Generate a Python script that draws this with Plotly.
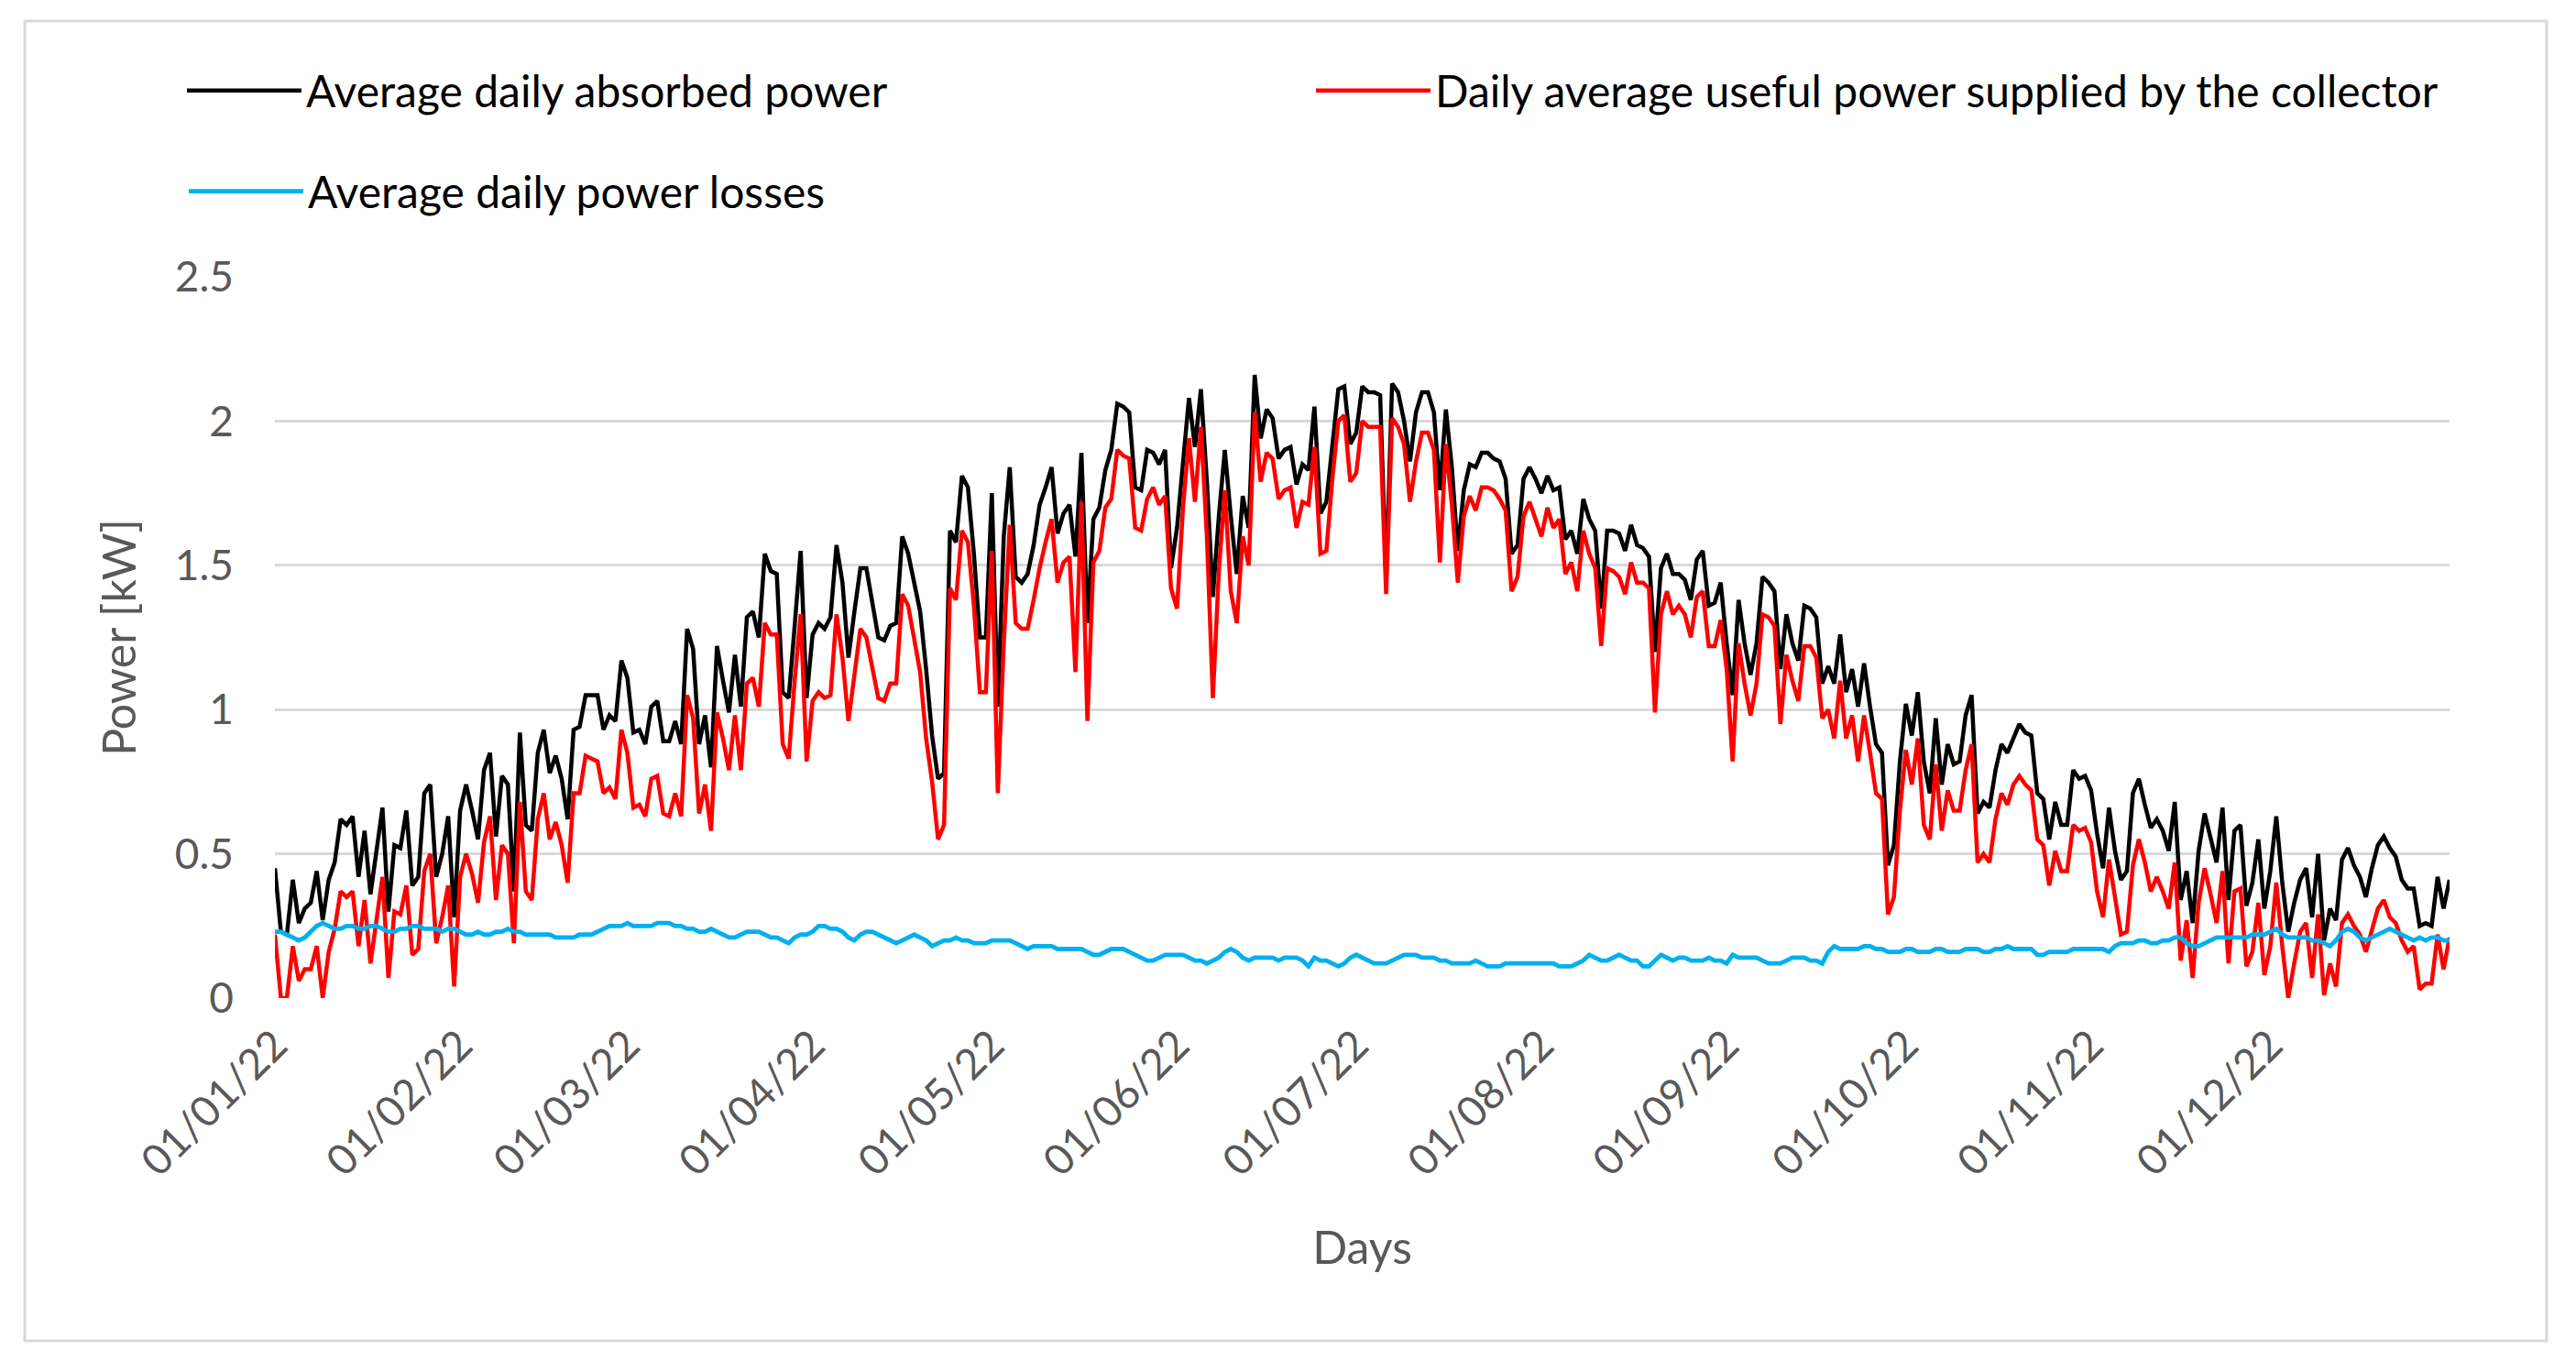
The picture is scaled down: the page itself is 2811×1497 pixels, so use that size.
import pandas as pd
import plotly.graph_objects as go

# ---------------- data ----------------
days = pd.date_range("2022-01-01", periods=365, freq="D")

absorbed = [
    0.45, 0.23, 0.22, 0.41, 0.26, 0.31, 0.33, 0.44, 0.27, 0.41,
    0.47, 0.62, 0.60, 0.63, 0.42, 0.58, 0.36, 0.50, 0.66, 0.30,
    0.53, 0.52, 0.65, 0.39, 0.42, 0.71, 0.74, 0.42, 0.50, 0.63,
    0.28, 0.65, 0.74, 0.65, 0.55, 0.79, 0.85, 0.56, 0.77, 0.74,
    0.37, 0.92, 0.60, 0.58, 0.85, 0.93, 0.78, 0.84, 0.76, 0.62,
    0.93, 0.94, 1.05, 1.05, 1.05, 0.93, 0.98, 0.96, 1.17, 1.11,
    0.92, 0.93, 0.88, 1.01, 1.03, 0.89, 0.89, 0.96, 0.88, 1.28,
    1.21, 0.88, 0.98, 0.80, 1.22, 1.10, 0.99, 1.19, 1.01, 1.32,
    1.34, 1.25, 1.54, 1.48, 1.47, 1.06, 1.04, 1.29, 1.55, 1.04,
    1.26, 1.30, 1.28, 1.32, 1.57, 1.44, 1.18, 1.34, 1.49, 1.49,
    1.36, 1.25, 1.24, 1.29, 1.30, 1.60, 1.54, 1.44, 1.34, 1.14,
    0.91, 0.76, 0.78, 1.62, 1.58, 1.81, 1.77, 1.54, 1.25, 1.25,
    1.75, 1.01, 1.60, 1.84, 1.46, 1.44, 1.47, 1.57, 1.71, 1.77,
    1.84, 1.61, 1.68, 1.71, 1.53, 1.89, 1.30, 1.66, 1.70, 1.83,
    1.90, 2.06, 2.05, 2.03, 1.77, 1.76, 1.90, 1.89, 1.85, 1.90,
    1.49, 1.63, 1.86, 2.08, 1.91, 2.11, 1.79, 1.39, 1.67, 1.90,
    1.67, 1.47, 1.74, 1.63, 2.16, 1.94, 2.04, 2.01, 1.87, 1.90,
    1.91, 1.78, 1.85, 1.83, 2.05, 1.68, 1.72, 1.92, 2.11, 2.12,
    1.92, 1.96, 2.12, 2.10, 2.10, 2.09, 1.45, 2.13, 2.10, 2.00,
    1.86, 2.03, 2.10, 2.10, 2.03, 1.76, 2.04, 1.84, 1.55, 1.76,
    1.85, 1.84, 1.89, 1.89, 1.87, 1.86, 1.80, 1.54, 1.57, 1.80,
    1.84, 1.80, 1.75, 1.81, 1.76, 1.77, 1.59, 1.62, 1.54, 1.73,
    1.66, 1.62, 1.35, 1.62, 1.62, 1.61, 1.55, 1.64, 1.57, 1.56,
    1.53, 1.20, 1.49, 1.54, 1.47, 1.47, 1.45, 1.38, 1.52, 1.55,
    1.36, 1.37, 1.44, 1.23, 1.05, 1.38, 1.23, 1.12, 1.23, 1.46,
    1.44, 1.41, 1.14, 1.33, 1.23, 1.17, 1.36, 1.35, 1.32, 1.09,
    1.15, 1.09, 1.26, 1.06, 1.14, 1.01, 1.16, 1.01, 0.88, 0.85,
    0.46, 0.53, 0.82, 1.02, 0.91, 1.06, 0.82, 0.71, 0.97, 0.74,
    0.88, 0.81, 0.82, 0.98, 1.05, 0.64, 0.68, 0.66, 0.79, 0.88,
    0.85, 0.90, 0.95, 0.92, 0.91, 0.71, 0.69, 0.55, 0.68, 0.60,
    0.60, 0.79, 0.76, 0.77, 0.72, 0.57, 0.45, 0.66, 0.51, 0.41,
    0.44, 0.71, 0.76, 0.67, 0.59, 0.62, 0.58, 0.51, 0.68, 0.34,
    0.44, 0.26, 0.51, 0.64, 0.55, 0.47, 0.66, 0.34, 0.58, 0.60,
    0.32, 0.40, 0.55, 0.31, 0.44, 0.63, 0.40, 0.23, 0.33, 0.41,
    0.45, 0.28, 0.50, 0.20, 0.31, 0.27, 0.48, 0.52, 0.46, 0.42,
    0.35, 0.45, 0.53, 0.56, 0.52, 0.49, 0.41, 0.38, 0.38, 0.25,
    0.26, 0.25, 0.42, 0.31, 0.41,
]

useful = [
    0.22, 0.00, 0.00, 0.18, 0.06, 0.10, 0.10, 0.18, 0.00, 0.16,
    0.24, 0.37, 0.35, 0.37, 0.18, 0.34, 0.12, 0.27, 0.42, 0.07,
    0.30, 0.29, 0.39, 0.15, 0.17, 0.44, 0.50, 0.19, 0.28, 0.39,
    0.04, 0.42, 0.50, 0.43, 0.33, 0.54, 0.63, 0.34, 0.53, 0.50,
    0.19, 0.68, 0.37, 0.34, 0.62, 0.71, 0.55, 0.61, 0.53, 0.40,
    0.71, 0.71, 0.84, 0.83, 0.82, 0.71, 0.73, 0.69, 0.93, 0.85,
    0.66, 0.67, 0.63, 0.76, 0.77, 0.64, 0.63, 0.71, 0.63, 1.05,
    0.97, 0.64, 0.74, 0.58, 0.99, 0.90, 0.79, 0.98, 0.79, 1.09,
    1.11, 1.01, 1.30, 1.26, 1.26, 0.88, 0.83, 1.10, 1.33, 0.82,
    1.03, 1.06, 1.04, 1.05, 1.33, 1.18, 0.96, 1.12, 1.28, 1.25,
    1.14, 1.04, 1.03, 1.09, 1.09, 1.40, 1.36, 1.25, 1.13, 0.90,
    0.75, 0.55, 0.60, 1.42, 1.38, 1.62, 1.58, 1.36, 1.06, 1.06,
    1.55, 0.71, 1.23, 1.64, 1.30, 1.28, 1.28, 1.38, 1.49, 1.58,
    1.66, 1.44, 1.51, 1.53, 1.13, 1.72, 0.96, 1.51, 1.55, 1.70,
    1.73, 1.90, 1.88, 1.87, 1.63, 1.62, 1.73, 1.77, 1.71, 1.74,
    1.42, 1.35, 1.70, 1.94, 1.72, 1.98, 1.60, 1.04, 1.48, 1.76,
    1.41, 1.30, 1.60, 1.50, 2.03, 1.79, 1.89, 1.87, 1.73, 1.76,
    1.77, 1.63, 1.72, 1.71, 1.91, 1.54, 1.55, 1.80, 2.00, 2.02,
    1.79, 1.82, 2.00, 1.98, 1.98, 1.98, 1.40, 2.01, 1.98, 1.92,
    1.72, 1.86, 1.96, 1.96, 1.90, 1.51, 1.92, 1.71, 1.44, 1.67,
    1.74, 1.69, 1.77, 1.77, 1.76, 1.73, 1.69, 1.41, 1.46, 1.67,
    1.72, 1.66, 1.60, 1.70, 1.63, 1.66, 1.47, 1.51, 1.41, 1.62,
    1.54, 1.49, 1.22, 1.49, 1.48, 1.46, 1.40, 1.51, 1.44, 1.44,
    1.42, 0.99, 1.33, 1.41, 1.33, 1.36, 1.33, 1.25, 1.39, 1.41,
    1.22, 1.22, 1.31, 1.14, 0.82, 1.23, 1.09, 0.98, 1.09, 1.33,
    1.32, 1.29, 0.95, 1.19, 1.10, 1.03, 1.22, 1.22, 1.18, 0.97,
    1.00, 0.90, 1.10, 0.90, 0.98, 0.82, 0.98, 0.85, 0.71, 0.69,
    0.29, 0.35, 0.65, 0.86, 0.74, 0.90, 0.60, 0.55, 0.81, 0.58,
    0.72, 0.65, 0.65, 0.79, 0.88, 0.47, 0.50, 0.47, 0.62, 0.71,
    0.67, 0.74, 0.77, 0.74, 0.72, 0.55, 0.53, 0.39, 0.51, 0.44,
    0.44, 0.60, 0.58, 0.59, 0.54, 0.37, 0.28, 0.48, 0.34, 0.22,
    0.23, 0.46, 0.55, 0.47, 0.37, 0.42, 0.37, 0.31, 0.47, 0.13,
    0.27, 0.07, 0.33, 0.45, 0.36, 0.26, 0.44, 0.12, 0.37, 0.38,
    0.11, 0.16, 0.33, 0.08, 0.18, 0.40, 0.18, 0.00, 0.12, 0.23,
    0.26, 0.07, 0.29, 0.01, 0.12, 0.04, 0.26, 0.29, 0.25, 0.22,
    0.16, 0.23, 0.31, 0.34, 0.28, 0.26, 0.20, 0.16, 0.18, 0.03,
    0.05, 0.05, 0.22, 0.10, 0.21,
]

losses = [
    0.23, 0.23, 0.22, 0.21, 0.20, 0.21, 0.23, 0.25, 0.26, 0.25,
    0.24, 0.24, 0.25, 0.25, 0.24, 0.24, 0.25, 0.25, 0.24, 0.23,
    0.23, 0.24, 0.24, 0.25, 0.25, 0.24, 0.24, 0.24, 0.23, 0.24,
    0.24, 0.23, 0.22, 0.22, 0.23, 0.22, 0.22, 0.23, 0.23, 0.24,
    0.23, 0.23, 0.22, 0.22, 0.22, 0.22, 0.22, 0.21, 0.21, 0.21,
    0.21, 0.22, 0.22, 0.22, 0.23, 0.24, 0.25, 0.25, 0.25, 0.26,
    0.25, 0.25, 0.25, 0.25, 0.26, 0.26, 0.26, 0.25, 0.25, 0.24,
    0.24, 0.23, 0.23, 0.24, 0.23, 0.22, 0.21, 0.21, 0.22, 0.23,
    0.23, 0.23, 0.22, 0.21, 0.21, 0.20, 0.19, 0.21, 0.22, 0.22,
    0.23, 0.25, 0.25, 0.24, 0.24, 0.23, 0.21, 0.20, 0.22, 0.23,
    0.23, 0.22, 0.21, 0.20, 0.19, 0.20, 0.21, 0.22, 0.21, 0.20,
    0.18, 0.19, 0.20, 0.20, 0.21, 0.20, 0.20, 0.19, 0.19, 0.19,
    0.20, 0.20, 0.20, 0.20, 0.19, 0.18, 0.17, 0.18, 0.18, 0.18,
    0.18, 0.17, 0.17, 0.17, 0.17, 0.17, 0.16, 0.15, 0.15, 0.16,
    0.17, 0.17, 0.17, 0.16, 0.15, 0.14, 0.13, 0.13, 0.14, 0.15,
    0.15, 0.15, 0.15, 0.14, 0.13, 0.13, 0.12, 0.13, 0.14, 0.16,
    0.17, 0.16, 0.14, 0.13, 0.14, 0.14, 0.14, 0.14, 0.13, 0.14,
    0.14, 0.14, 0.13, 0.11, 0.14, 0.13, 0.13, 0.12, 0.11, 0.12,
    0.14, 0.15, 0.14, 0.13, 0.12, 0.12, 0.12, 0.13, 0.14, 0.15,
    0.15, 0.15, 0.14, 0.14, 0.14, 0.13, 0.13, 0.12, 0.12, 0.12,
    0.12, 0.13, 0.12, 0.11, 0.11, 0.11, 0.12, 0.12, 0.12, 0.12,
    0.12, 0.12, 0.12, 0.12, 0.12, 0.11, 0.11, 0.11, 0.12, 0.13,
    0.15, 0.14, 0.13, 0.13, 0.14, 0.15, 0.14, 0.13, 0.13, 0.11,
    0.11, 0.13, 0.15, 0.14, 0.13, 0.14, 0.14, 0.13, 0.13, 0.13,
    0.14, 0.13, 0.13, 0.12, 0.15, 0.14, 0.14, 0.14, 0.14, 0.13,
    0.12, 0.12, 0.12, 0.13, 0.14, 0.14, 0.14, 0.13, 0.13, 0.12,
    0.16, 0.18, 0.17, 0.17, 0.17, 0.17, 0.18, 0.18, 0.17, 0.17,
    0.16, 0.16, 0.16, 0.17, 0.17, 0.16, 0.16, 0.16, 0.17, 0.17,
    0.16, 0.16, 0.16, 0.17, 0.17, 0.17, 0.16, 0.16, 0.17, 0.17,
    0.18, 0.17, 0.17, 0.17, 0.17, 0.15, 0.15, 0.16, 0.16, 0.16,
    0.16, 0.17, 0.17, 0.17, 0.17, 0.17, 0.17, 0.16, 0.18, 0.19,
    0.19, 0.19, 0.20, 0.20, 0.19, 0.19, 0.20, 0.20, 0.21, 0.21,
    0.19, 0.18, 0.18, 0.19, 0.20, 0.21, 0.21, 0.21, 0.21, 0.21,
    0.21, 0.22, 0.22, 0.22, 0.23, 0.24, 0.22, 0.21, 0.21, 0.21,
    0.21, 0.20, 0.20, 0.19, 0.18, 0.20, 0.23, 0.24, 0.23, 0.21,
    0.20, 0.21, 0.22, 0.23, 0.24, 0.23, 0.22, 0.21, 0.20, 0.21,
    0.20, 0.21, 0.21, 0.20, 0.20,
]

month_ticks = pd.date_range("2022-01-01", periods=12, freq="MS")
tick_labels = [d.strftime("%d/%m/%y") for d in month_ticks]
y_ticks = [0, 0.5, 1, 1.5, 2, 2.5]
y_tick_labels = ["0", "0.5", "1", "1.5", "2", "2.5"]

series_names = [
    "Average daily absorbed power",
    "Daily average useful power supplied by the collector",
    "Average daily power losses",
]

# ---------------- layout geometry (pixels) ----------------
W, H = 2811, 1497
L, R, T, B = 300, 138, 302, 408
PW, PH = W - L - R, H - T - B


def px_x(px):
    return (px - L) / PW


def px_y(py):
    return (H - B - py) / PH


FONT = "Lato"
GREY = "#595959"

fig = go.Figure()
fig.add_trace(go.Scatter(x=days, y=absorbed, mode="lines", name=series_names[0],
                         line=dict(color="#000000", width=4.5), legend="legend"))
fig.add_trace(go.Scatter(x=days, y=useful, mode="lines", name=series_names[1],
                         line=dict(color="#ff0000", width=4.5), legend="legend2"))
fig.add_trace(go.Scatter(x=days, y=losses, mode="lines", name=series_names[2],
                         line=dict(color="#00b0f0", width=4.8), legend="legend3"))

legend_common = dict(orientation="h", xanchor="left", yanchor="middle",
                     bgcolor="rgba(0,0,0,0)", itemwidth=125,
                     font=dict(family=FONT, size=48, color="#000000"))

fig.update_layout(
    width=W, height=H,
    margin=dict(l=L, r=R, t=T, b=B),
    paper_bgcolor="white", plot_bgcolor="white",
    font=dict(family=FONT, color=GREY),
    showlegend=True,
    legend=dict(x=px_x(199), y=px_y(99), **legend_common),
    legend2=dict(x=px_x(1431), y=px_y(99), **legend_common),
    legend3=dict(x=px_x(201), y=px_y(209), **legend_common),
    xaxis=dict(
        type="date",
        range=[days[0], days[-1]],
        tickvals=month_ticks, ticktext=tick_labels,
        tickangle=-45,
        tickfont=dict(family=FONT, size=46, color=GREY),
        showgrid=False, zeroline=False, showline=False,
        ticks="", ticklabelstandoff=14,
        automargin=False,
        title=dict(text="Days", font=dict(family=FONT, size=50, color=GREY), standoff=52),
    ),
    yaxis=dict(
        range=[0, 2.5],
        tickvals=y_ticks, ticktext=y_tick_labels,
        tickfont=dict(family=FONT, size=46, color=GREY),
        showgrid=True, gridcolor="#d9d9d9", gridwidth=3,
        zeroline=False, showline=False,
        ticks="", ticklabelstandoff=44,
        automargin=False,
        title=dict(text="Power [kW]", font=dict(family=FONT, size=50, color=GREY), standoff=26),
    ),
    shapes=[dict(type="rect", xref="paper", yref="paper",
                 x0=px_x(27), x1=px_x(2779), y0=px_y(1463), y1=px_y(23),
                 line=dict(color="#d9d9d9", width=3), fillcolor="rgba(0,0,0,0)",
                 layer="below")],
)

fig.write_html("out.html", config={"displayModeBar": False},
               post_script="document.body.style.margin='0';")
